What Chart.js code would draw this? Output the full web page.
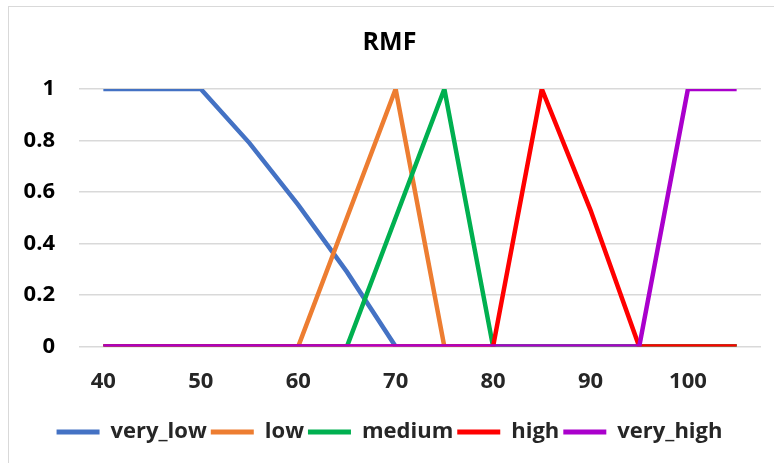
<!DOCTYPE html>
<html>
<head>
<meta charset="utf-8">
<script src="https://cdn.jsdelivr.net/npm/chart.js@4"></script>
<style>
  html, body { margin: 0; padding: 0; background: #ffffff; }
  #wrap { position: relative; width: 774px; height: 463px; overflow: hidden; }
  #frame {
    position: absolute; left: 8px; top: 6px; width: 800px; height: 500px;
    border-top: 1px solid #d9d9d9; border-left: 1px solid #d9d9d9;
  }
  canvas { position: absolute; left: 0; top: 0; }
</style>
</head>
<body>
<div id="wrap">
  <div id="frame"></div>
  <canvas id="rmfChart" width="774" height="463"></canvas>
</div>
<script>
// x categories (step 5), only every other one gets a tick label
const xValues = ["40", "45", "50", "55", "60", "65", "70", "75", "80", "85", "90", "95", "100", "105"];

const veryLow = [1, 1, 1, 0.79, 0.55, 0.29, 0, 0, 0, 0, 0, 0, 0, 0];
const low = [0, 0, 0, 0, 0, 0.5, 1, 0, 0, 0, 0, 0, 0, 0];
const medium = [0, 0, 0, 0, 0, 0, 0.5, 1, 0, 0, 0, 0, 0, 0];
const high = [0, 0, 0, 0, 0, 0, 0, 0, 0, 1, 0.53, 0, 0, 0];
const veryHigh = [0, 0, 0, 0, 0, 0, 0, 0, 0, 0, 0, 0, 1, 1];

const seriesNames = ["very_low", "low", "medium", "high", "very_high"];
const seriesColors = ["#4472C4", "#ED7D31", "#00B050", "#FF0000", "#AA00CC"];

const fontFamily = "'Open Sans', sans-serif";

function makeSet(i, data) {
  return {
    label: seriesNames[i],
    data: data,
    borderColor: seriesColors[i],
    backgroundColor: seriesColors[i],
    borderWidth: 4.5,
    pointRadius: 0,
    tension: 0,
    // later series are painted on top, like the original
    order: seriesNames.length - i,
  };
}

document.addEventListener("DOMContentLoaded", () => {
  new Chart(document.getElementById("rmfChart"), {
    type: "line",
    data: {
      labels: xValues,
      datasets: [
        makeSet(0, veryLow),
        makeSet(1, low),
        makeSet(2, medium),
        makeSet(3, high),
        makeSet(4, veryHigh),
      ],
    },
    options: {
      responsive: false,
      animation: false,
      devicePixelRatio: 1,
      // left padding + narrower y axis: plot still starts at x=79, title/legend sit a bit more right
      layout: { padding: { left: 18, right: 13, top: 0, bottom: 10 } },
      plugins: {
        title: {
          display: true,
          text: "RMF",
          color: "#000000",
          font: { family: fontFamily, size: 25, weight: "bold" },
          padding: { top: 28, bottom: 31 },
        },
        legend: {
          position: "bottom",
          labels: {
            color: "#262626",
            font: { family: fontFamily, size: 22, weight: "bold" },
            boxWidth: 43,
            boxHeight: 5,
            padding: 4,
            sort: (a, b) => a.datasetIndex - b.datasetIndex,
            generateLabels: (chart) =>
              Chart.defaults.plugins.legend.labels
                .generateLabels(chart)
                .map((item) => ({ ...item, lineWidth: 0 })),
          },
        },
        tooltip: { enabled: false },
      },
      scales: {
        x: {
          offset: true,
          grid: { display: false, drawTicks: false },
          border: { display: false },
          ticks: {
            autoSkip: false,
            maxRotation: 0,
            padding: 22,
            color: "#262626",
            font: { family: fontFamily, size: 22, weight: "bold" },
            callback: (value, index) => (index % 2 === 0 ? xValues[index] : ""),
          },
        },
        y: {
          min: 0,
          max: 1,
          border: { display: false },
          grid: { color: "#d9d9d9", lineWidth: 1.5, drawTicks: false },
          afterFit: (axis) => { axis.width = 61; },
          ticks: {
            stepSize: 0.2,
            padding: 24,
            color: "#000000",
            font: { family: fontFamily, size: 22, weight: "bold" },
            callback: (value) => String(Number(value.toFixed(1))),
          },
        },
      },
    },
  });
});
</script>
</body>
</html>
